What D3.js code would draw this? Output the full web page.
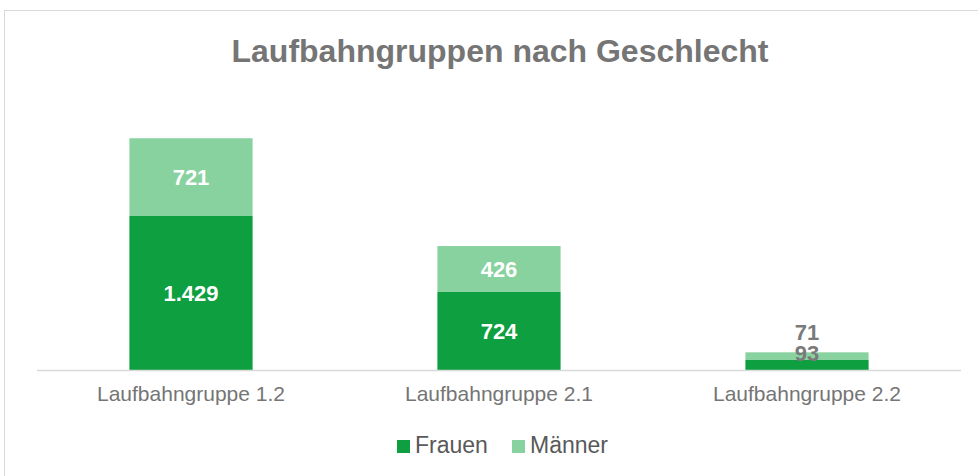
<!DOCTYPE html>
<html>
<head>
<meta charset="utf-8">
<script src="https://cdn.jsdelivr.net/npm/d3@7"></script>
<style>
  body { margin: 0; background: #fff; }
  text { font-family: "Liberation Sans", Arial, sans-serif; }
</style>
</head>
<body>
<div id="chart"></div>
<script>
// Data
const categories = ["Laufbahngruppe 1.2", "Laufbahngruppe 2.1", "Laufbahngruppe 2.2"];
const frauen = [1429, 724, 93];
const maenner = [721, 426, 71];
const seriesNames = ["Frauen", "Männer"];
const colors = ["#0e9f40", "#88d2a0"];

const svgWidth = 978;
const svgHeight = 476;
const margin = { top: 100, right: 17, bottom: 106, left: 37 };
const width = svgWidth - margin.left - margin.right;
const height = svgHeight - margin.top - margin.bottom;

const svg = d3
  .select("#chart")
  .append("svg")
  .attr("width", svgWidth)
  .attr("height", svgHeight);

// outer frame
svg
  .append("rect")
  .attr("x", 4.5)
  .attr("y", 10.5)
  .attr("width", 990)
  .attr("height", 500)
  .attr("fill", "#fff")
  .attr("stroke", "#d9d9d9");

// Title
svg
  .append("text")
  .attr("x", 500)
  .attr("y", 62)
  .attr("text-anchor", "middle")
  .style("font-size", "32px")
  .style("font-weight", "bold")
  .style("fill", "#757575")
  .text("Laufbahngruppen nach Geschlecht");

const chart = svg
  .append("g")
  .attr("transform", `translate(${margin.left},${margin.top})`);

const x = d3
  .scaleBand()
  .domain(categories)
  .range([0, width])
  .paddingInner(0.6)
  .paddingOuter(0.3);

// scale: 1429 -> ~154px
const y = d3.scaleLinear().domain([0, 2505]).range([height, 0]);

const data = categories.map((c, i) => ({ cat: c, Frauen: frauen[i], Männer: maenner[i] }));
const stacked = d3.stack().keys(seriesNames)(data);

stacked.forEach((layer, li) => {
  chart
    .selectAll(".bar-" + li)
    .data(layer)
    .enter()
    .append("rect")
    .attr("x", (d) => x(d.data.cat))
    .attr("y", (d) => y(d[1]))
    .attr("width", x.bandwidth())
    .attr("height", (d) => y(d[0]) - y(d[1]))
    .attr("fill", colors[li]);
});

// Axis line
chart
  .append("line")
  .attr("x1", 0)
  .attr("x2", width)
  .attr("y1", height + 0.5)
  .attr("y2", height + 0.5)
  .attr("stroke", "#d9d9d9")
  .attr("stroke-width", 1.5);

// Category labels
const xAxis = chart
  .append("g")
  .attr("transform", `translate(0, ${height})`)
  .call(d3.axisBottom(x).tickSize(0).tickPadding(16));
xAxis.select(".domain").remove();
xAxis
  .selectAll("text")
  .style("font-size", "21px")
  .style("fill", "#757575")
  .style("font-family", "'Liberation Sans', Arial, sans-serif");

// Data labels
const fmt = (v) => v.toLocaleString("de-DE");
stacked.forEach((layer, li) => {
  chart
    .selectAll(".lbl-" + li)
    .data(layer)
    .enter()
    .append("text")
    .attr("x", (d) => x(d.data.cat) + x.bandwidth() / 2)
    .attr("y", (d) => {
      const h = y(d[0]) - y(d[1]);
      if (h < 30) {
        // small segments: labels stacked above bar
        return li === 0 ? y(d[1]) + 1 : y(d[1]) - 12;
      }
      return (y(d[0]) + y(d[1])) / 2 + 8;
    })
    .attr("text-anchor", "middle")
    .style("font-size", "22px")
    .style("font-weight", "bold")
    .style("fill", (d) => (y(d[0]) - y(d[1]) < 30 ? "#7a7a7a" : "#fff"))
    .text((d) => fmt(d[1] - d[0]));
});

// Legend
const legend = svg.append("g").attr("transform", "translate(397, 440)");
const legendX = [0, 115];
seriesNames.forEach((name, i) => {
  const g = legend.append("g").attr("transform", `translate(${legendX[i]}, 0)`);
  g.append("rect").attr("width", 13).attr("height", 13).attr("fill", colors[i]);
  g.append("text")
    .attr("x", 18)
    .attr("y", 13)
    .style("font-size", "23px")
    .style("fill", "#595959")
    .text(name);
});
</script>
</body>
</html>
